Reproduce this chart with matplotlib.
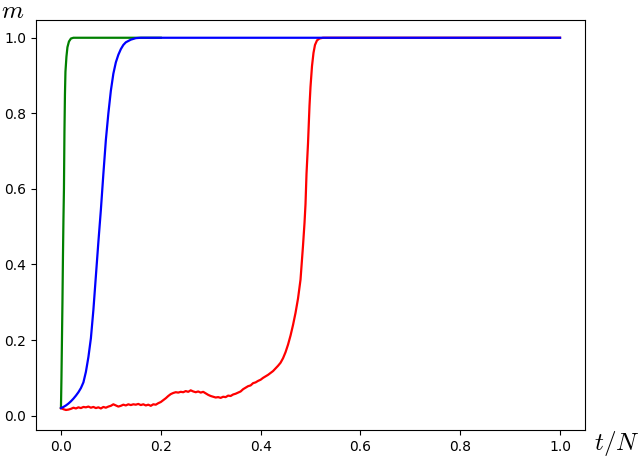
import numpy as np
import matplotlib
matplotlib.use("Agg")
import matplotlib.pyplot as plt

plt.rcParams['mathtext.fontset'] = 'cm'

# green run (fastest)
t_green = [0.0, 0.001, 0.002, 0.003, 0.004, 0.005, 0.006, 0.007, 0.008, 0.009,
           0.011, 0.013, 0.016, 0.02, 0.025, 0.05, 0.1, 0.15, 0.2]
m_green = [0.02, 0.10, 0.20, 0.30, 0.42, 0.52, 0.60, 0.75, 0.85, 0.91,
           0.95, 0.975, 0.99, 0.998, 1.0, 1.0, 1.0, 1.0, 1.0]

# blue run
t_blue = [0.0, 0.005, 0.01, 0.015, 0.02, 0.025, 0.03, 0.035, 0.04, 0.045,
          0.05, 0.055, 0.06, 0.065, 0.07, 0.075, 0.08, 0.085, 0.09, 0.095,
          0.1, 0.105, 0.11, 0.115, 0.12, 0.125, 0.13, 0.14, 0.15, 0.16,
          0.2, 0.5, 1.0]
m_blue = [0.02, 0.023, 0.027, 0.032, 0.038, 0.045, 0.053, 0.062, 0.073, 0.088,
          0.116, 0.155, 0.205, 0.28, 0.37, 0.46, 0.545, 0.64, 0.73, 0.80,
          0.86, 0.905, 0.935, 0.955, 0.97, 0.981, 0.988, 0.995, 0.999, 1.0,
          1.0, 1.0, 1.0]

# red run (noisy plateau, then late jump)
t_red = [0.000, 0.005, 0.010, 0.015, 0.020, 0.025, 0.030, 0.035, 0.040, 0.045,
         0.050, 0.055, 0.060, 0.065, 0.070, 0.075, 0.080, 0.085, 0.090, 0.095,
         0.100, 0.105, 0.110, 0.115, 0.120, 0.125, 0.130, 0.135, 0.140, 0.145,
         0.150, 0.155, 0.160, 0.165, 0.170, 0.175, 0.180, 0.185, 0.190, 0.195,
         0.200, 0.205, 0.210, 0.215, 0.220, 0.225, 0.230, 0.235, 0.240, 0.245,
         0.250, 0.255, 0.260, 0.265, 0.270, 0.275, 0.280, 0.285, 0.290, 0.295,
         0.300, 0.305, 0.310, 0.315, 0.320, 0.325, 0.330, 0.335, 0.340, 0.345,
         0.350, 0.355, 0.360, 0.365, 0.370, 0.375, 0.380, 0.385, 0.390, 0.395,
         0.400, 0.405, 0.410, 0.415, 0.420, 0.425, 0.430, 0.435, 0.440, 0.445,
         0.450, 0.455, 0.460, 0.465, 0.470, 0.475, 0.480, 0.485, 0.488, 0.490,
         0.492, 0.495, 0.498, 0.500, 0.503, 0.506, 0.509, 0.513, 0.518, 0.525,
         1.0]
m_red = [0.020, 0.017, 0.015, 0.016, 0.018, 0.021, 0.019, 0.022, 0.020, 0.023,
         0.022, 0.024, 0.021, 0.023, 0.020, 0.022, 0.019, 0.023, 0.021, 0.024,
         0.026, 0.030, 0.027, 0.024, 0.026, 0.029, 0.027, 0.030, 0.028, 0.030,
         0.029, 0.031, 0.028, 0.030, 0.027, 0.029, 0.026, 0.030, 0.029, 0.033,
         0.036, 0.041, 0.046, 0.052, 0.057, 0.060, 0.062, 0.061, 0.063, 0.062,
         0.065, 0.063, 0.067, 0.064, 0.062, 0.064, 0.061, 0.063, 0.059, 0.055,
         0.052, 0.050, 0.048, 0.049, 0.047, 0.050, 0.049, 0.053, 0.052, 0.056,
         0.058, 0.061, 0.064, 0.070, 0.074, 0.078, 0.080, 0.086, 0.088, 0.092,
         0.095, 0.100, 0.104, 0.108, 0.113, 0.118, 0.125, 0.132, 0.140, 0.152,
         0.168, 0.188, 0.212, 0.240, 0.272, 0.310, 0.360, 0.450, 0.510, 0.560,
         0.640, 0.720, 0.820, 0.870, 0.925, 0.960, 0.981, 0.993, 0.998, 1.0,
         1.0]

ticks = [0.0, 0.2, 0.4, 0.6, 0.8, 1.0]

fig = plt.figure(figsize=(6.4, 4.58), dpi=100)
ax = fig.add_axes([36/640, 1 - 430/458, 549/640, 410/458])

ax.plot(t_green, m_green, color='g', lw=1.6)
ax.plot(t_red, m_red, color='r', lw=1.6)
ax.plot(t_blue, m_blue, color='b', lw=1.6)

ax.set_xlim(-0.05, 1.05)
ax.set_ylim(-0.038, 1.047)
ax.set_xticks(ticks)
ax.set_yticks(ticks)

# axis labels sit outside the corners, as in the source figure
ax.text(-0.043, 1.006, '$m$', transform=ax.transAxes, ha='center', va='baseline', fontsize=18)
ax.text(1.057, -0.05, '$t/N$', transform=ax.transAxes, ha='center', va='baseline', fontsize=18)

fig.savefig('out.png', dpi=100)
